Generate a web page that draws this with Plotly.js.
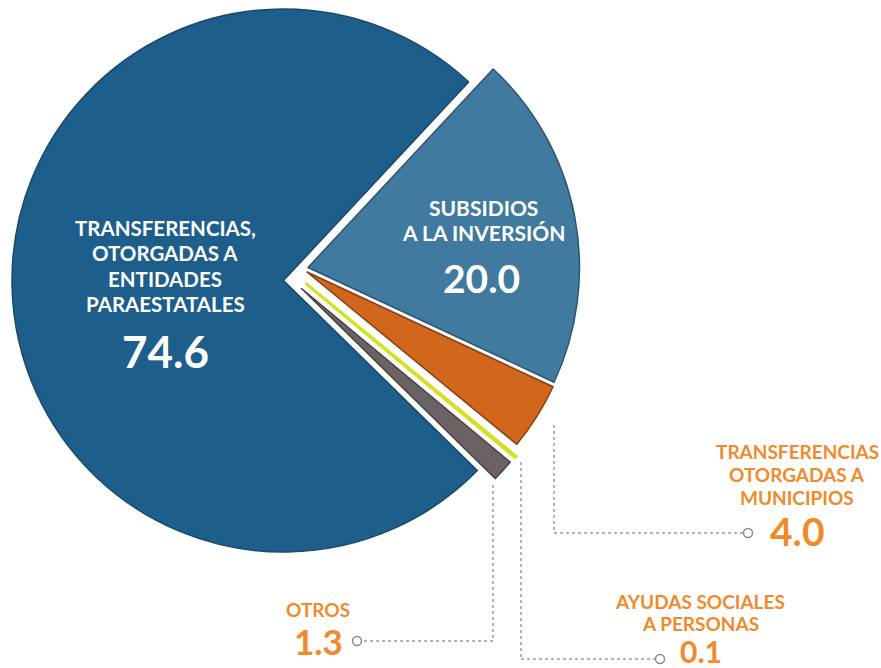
<!DOCTYPE html>
<html><head><meta charset="utf-8">
<script src="https://cdn.plot.ly/plotly-3.0.1.min.js"></script>
<style>
html,body{margin:0;padding:0;overflow:hidden;background:#fff;width:881px;height:668px;}
#chart{position:absolute;left:-60px;top:-60px;width:1001px;height:788px;}
</style></head><body><div id="chart"></div>
<script>
// ---- data ----
const categories = ["SUBSIDIOS A LA INVERSIÓN", "TRANSFERENCIAS OTORGADAS A MUNICIPIOS", "AYUDAS SOCIALES A PERSONAS", "OTROS", "TRANSFERENCIAS, OTORGADAS A ENTIDADES PARAESTATALES"];
const values = [20.0, 4.0, 0.1, 1.3, 74.6];
const valueLabels = ["20.0", "4.0", "0.1", "1.3", "74.6"];
const labelLines = [["SUBSIDIOS", "A LA INVERSIÓN"], ["TRANSFERENCIAS", "OTORGADAS A", "MUNICIPIOS"], ["AYUDAS SOCIALES", "A PERSONAS"], ["OTROS"], ["TRANSFERENCIAS,", "OTORGADAS A", "ENTIDADES", "PARAESTATALES"]];

// ---- styles ----
const sliceColors = ["#407a9f", "#d1661d", "#d5e022", "#6a6263", "#1e5e8b"];
const lineColors = ["#2a5676", "#8a3c10", "#d5e022", "#4a4445", "#164a6f"];
const lineWidths = [1.5, 1.5, 3, 1.5, 1.5];
const W = 1001, H = 788, OX = 60, OY = 60;
const R = 271.5;
const base = {x: 283.5, y: 280.5};
const offsets = [[24.5, -13], [23.5, -8.5], [23, 3.5], [18, 8], [0, 0]];
const drawOrder = [4, 0, 1, 2, 3];

function P(x, y) { return {x: (x + OX) / W, y: 1 - (y + OY) / H}; }

function pieTrace(i) {
  const cx = base.x + offsets[i][0], cy = base.y + offsets[i][1];
  return {
    type: 'pie', values: values, labels: categories, sort: false,
    direction: 'clockwise', rotation: 43,
    marker: {
      colors: values.map((v, j) => j === i ? sliceColors[j] : 'rgba(0,0,0,0)'),
      line: {
        color: values.map((v, j) => j === i ? lineColors[j] : 'rgba(0,0,0,0)'),
        width: values.map((v, j) => j === i ? lineWidths[j] : 0)
      }
    },
    textinfo: 'none', hoverinfo: 'label+value', showlegend: false,
    domain: {x: [(cx + OX - R) / W, (cx + OX + R) / W], y: [1 - (cy + OY + R) / H, 1 - (cy + OY - R) / H]}
  };
}
const traces = drawOrder.map(pieTrace);

const white = '#ffffff', orange = '#f08a2b';
// label placements: [center x, center y, size, line spacing, color]
const labelPos = [[483, 220, 21, 24.5, white], [797, 474, 19, 23, orange], [700, 612, 19, 22, orange], [318, 609, 19, 0, orange], [165, 266, 20.5, 25.3, white]];
// value placements: [center x, center y, size, color, box height]
const valuePos = [[481, 278, 39, white, null], [797, 531, 39, orange, null], [701, 651, 30, orange, 28], [318, 641, 35, orange, null], [165, 351, 44, white, null]];

const annotations = [];
categories.forEach((c, i) => {
  const [lx, ly, ls, sp, lc] = labelPos[i];
  const n = labelLines[i].length;
  labelLines[i].forEach((line, k) => {
    const lp = P(lx, ly + (k - (n - 1) / 2) * sp);
    annotations.push({xref: 'paper', yref: 'paper', x: lp.x, y: lp.y, xanchor: 'center', yanchor: 'middle', showarrow: false,
      text: line, font: {family: 'Lato', weight: 'bold', size: ls, color: lc}});
  });
  const vp = P(valuePos[i][0], valuePos[i][1]);
  const ann = {xref: 'paper', yref: 'paper', x: vp.x, y: vp.y, xanchor: 'center', yanchor: 'middle', showarrow: false,
    text: valueLabels[i],
    font: {family: 'Lato', weight: 'bold', size: valuePos[i][2], color: valuePos[i][3]}};
  if (valuePos[i][4]) ann.height = valuePos[i][4];
  annotations.push(ann);
});

// leader lines (page px)
const leaders = [
  [[554, 425], [554, 533], [743, 533]],
  [[493, 485], [493, 641], [362, 641]],
  [[521, 462], [521, 659], [655, 659]]
];
const dots = [[748, 533], [357, 641], [660, 659]];
const shapes = [];
leaders.forEach(seg => {
  for (let k = 0; k < seg.length - 1; k++) {
    const a = P(seg[k][0], seg[k][1]), b = P(seg[k + 1][0], seg[k + 1][1]);
    shapes.push({type: 'line', xref: 'paper', yref: 'paper', x0: a.x, y0: a.y, x1: b.x, y1: b.y,
      line: {color: '#9b9b9b', width: 1.5, dash: 'dot'}});
  }
});
dots.forEach(d => {
  const a = P(d[0] - 4.5, d[1] - 4.5), b = P(d[0] + 4.5, d[1] + 4.5);
  shapes.push({type: 'circle', xref: 'paper', yref: 'paper', x0: a.x, y0: b.y, x1: b.x, y1: a.y,
    fillcolor: '#ffffff', line: {color: '#8a8a8a', width: 1.5}});
});

const layout = {
  width: W, height: H, margin: {l: 0, r: 0, t: 0, b: 0},
  paper_bgcolor: '#ffffff', plot_bgcolor: '#ffffff',
  showlegend: false, annotations: annotations, shapes: shapes
};
Plotly.newPlot('chart', traces, layout, {displayModeBar: false, staticPlot: true});
</script></body></html>
